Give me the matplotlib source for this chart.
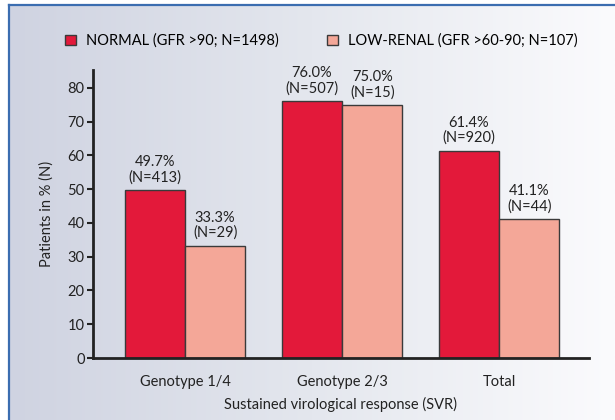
import numpy as np
import matplotlib
matplotlib.use('Agg')
import matplotlib.pyplot as plt
from matplotlib.lines import Line2D
from matplotlib.colors import LinearSegmentedColormap

plt.rcParams['font.family'] = ['Lato', 'DejaVu Sans']

categories = ['Genotype 1/4', 'Genotype 2/3', 'Total']
normal_pct = [49.7, 76.0, 61.4]
normal_n = [413, 507, 920]
low_pct = [33.3, 75.0, 41.1]
low_n = [29, 15, 44]
series_names = ['NORMAL (GFR >90; N=1498)', 'LOW-RENAL (GFR >60-90; N=107)']

red = '#e3193a'
pink = '#f4a798'
edge = '#3a3a3a'

fig = plt.figure(figsize=(6.15, 4.2), dpi=100)
fig.patch.set_facecolor('white')

# gradient panel behind the chart
bg = fig.add_axes([9 / 615, 0, 1 - 9 / 615, 1 - 5 / 420])
grad = np.linspace(0, 1, 256).reshape(1, -1)
cmap = LinearSegmentedColormap.from_list('bg', ['#cfd3e1', '#e4e7ee', '#fbfbfd'])
bg.imshow(grad, aspect='auto', cmap=cmap, extent=[0, 1, 0, 1])
bg.set_axis_off()

# blue frame lines (left and top)
fig.add_artist(Line2D([8.5 / 615, 8.5 / 615], [0, 1 - 4.5 / 420], color='#3b6db0', lw=1.6))
fig.add_artist(Line2D([8.5 / 615, 1], [1 - 4.5 / 420, 1 - 4.5 / 420], color='#3b6db0', lw=1.6))

ax = fig.add_axes([93 / 615, 1 - 358 / 420, (589 - 93) / 615, (358 - 70) / 420])
ax.patch.set_alpha(0)

x = np.arange(len(categories))
w = 0.385
b1 = ax.bar(x - w / 2, normal_pct, w, color=red, edgecolor=edge, linewidth=1, label=series_names[0])
b2 = ax.bar(x + w / 2, low_pct, w, color=pink, edgecolor=edge, linewidth=1, label=series_names[1])

for xi, v, n in zip(x - w / 2, normal_pct, normal_n):
    ax.annotate('%.1f%%\n(N=%d)' % (v, n), (xi, v), xytext=(0, 4), textcoords='offset points',
                ha='center', va='bottom', fontsize=10.5, color='#222222', linespacing=1.1)
for xi, v, n in zip(x + w / 2, low_pct, low_n):
    ax.annotate('%.1f%%\n(N=%d)' % (v, n), (xi, v), xytext=(0, 4), textcoords='offset points',
                ha='center', va='bottom', fontsize=10.5, color='#222222', linespacing=1.1)

ax.set_xlim(-0.586, 2.573)
ax.set_ylim(0, 85.3)
ax.set_yticks(range(0, 90, 10))
ax.set_xticks(x)
ax.set_xticklabels(categories)
ax.tick_params(axis='y', length=4, width=1.5, labelsize=10.5, colors='#222222', pad=2)
ax.tick_params(axis='x', length=0, labelsize=10.5, colors='#222222', pad=12)
for s in ['top', 'right']:
    ax.spines[s].set_visible(False)
ax.spines['left'].set_linewidth(2)
ax.spines['bottom'].set_linewidth(2)
ax.spines['left'].set_color('#222222')
ax.spines['bottom'].set_color('#222222')

ax.set_ylabel('Patients in % (N)', fontsize=10.5, color='#222222', labelpad=10)
ax.set_xlabel('Sustained virological response (SVR)', fontsize=10.5, color='#222222', labelpad=6)

fig.legend(handles=[b1, b2], loc='center left', bbox_to_anchor=(52 / 615, 1 - 41 / 420), ncol=2,
           frameon=False, fontsize=10.5, handlelength=0.75, handleheight=0.75,
           handletextpad=0.7, columnspacing=3.3)

fig.savefig('out.png', dpi=100)
